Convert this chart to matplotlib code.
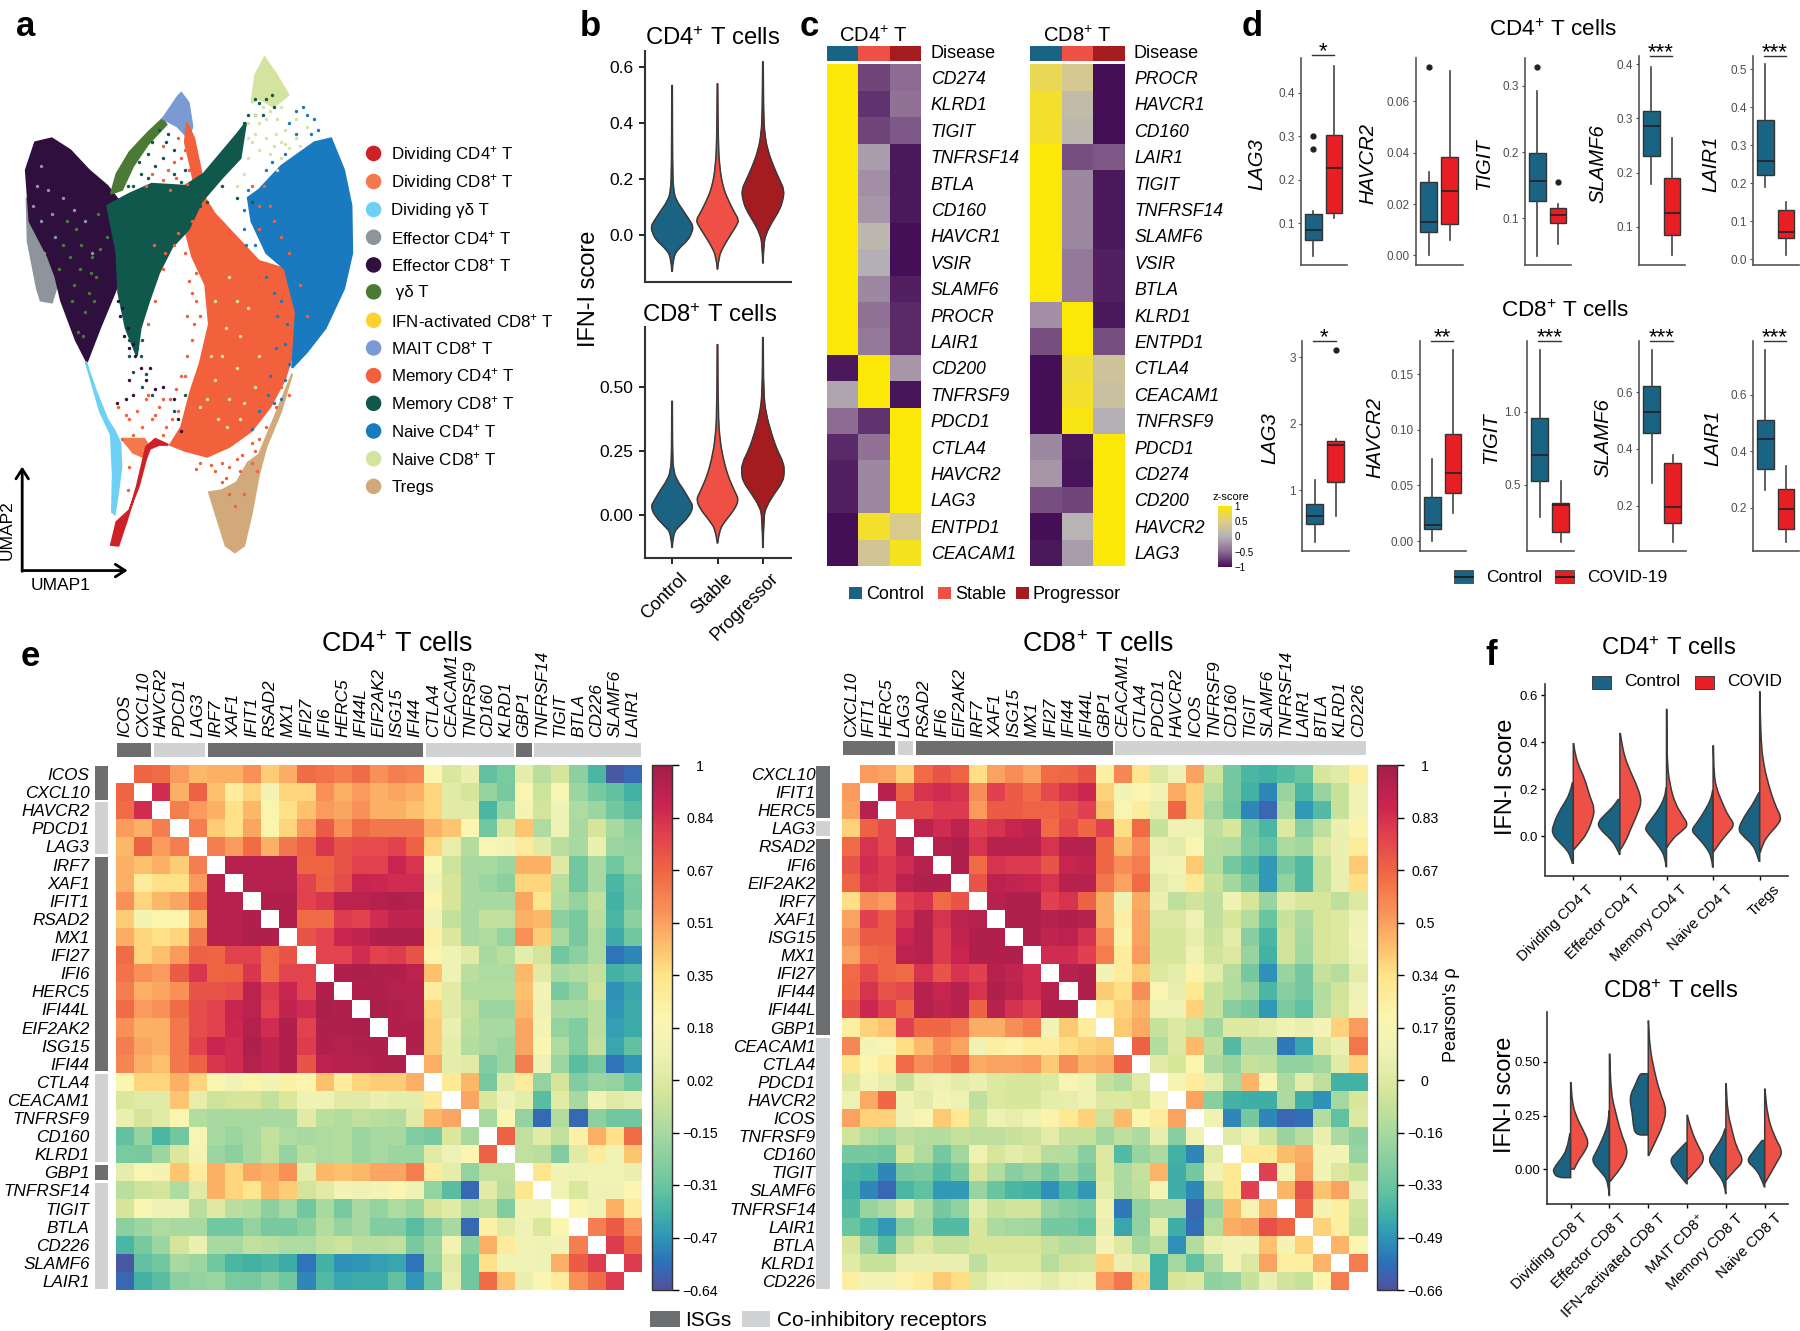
#!/bin/python3
"""----------------------------------------------------------------------------
Multi panel figure: UMAP, IFN-I violins, z-score heatmaps, boxplots, correlation
----------------------------------------------------------------------------"""

# importing needed modules
import numpy as np
import matplotlib
matplotlib.use("Agg")
import matplotlib.pyplot as plt
from matplotlib.colors import LinearSegmentedColormap, ListedColormap
from matplotlib.patches import Polygon, Rectangle, PathPatch
from matplotlib.path import Path
from matplotlib.transforms import ScaledTranslation

plt.rcParams['font.family'] = ['Liberation Sans', 'DejaVu Sans']
plt.rcParams['mathtext.fontset'] = 'custom'
plt.rcParams['mathtext.rm'] = 'Liberation Sans'
plt.rcParams['mathtext.it'] = 'Liberation Sans:italic'
plt.rcParams['mathtext.default'] = 'regular'

# data: panel a, cluster outlines and stray cells --------------------------------
cluster_names = ["Dividing CD4$^{+}$ T", "Dividing CD8$^{+}$ T", "Dividing γδ T",
                 "Effector CD4$^{+}$ T", "Effector CD8$^{+}$ T", " γδ T",
                 "IFN-activated CD8$^{+}$ T", "MAIT CD8$^{+}$ T", "Memory CD4$^{+}$ T",
                 "Memory CD8$^{+}$ T", "Naive CD4$^{+}$ T", "Naive CD8$^{+}$ T", "Tregs"]
cluster_colors = ["#cf2027", "#f47a4e", "#6fd0f5", "#8d949c", "#2e0f3d", "#4a7a35",
                  "#fdd12f", "#7b9ad4", "#f2603c", "#10574c", "#1a7ac0", "#d5e3a0", "#d2a97a"]

naive4_shape = [(700,480),(760,420),(850,360),(895,350),(930,430),(950,520),(952,640),(930,730),(880,830),(830,890),(790,930),(800,790),(770,680),(720,640),(680,560),(670,500)]
naive8_shape = [(690,190),(715,145),(745,185),(780,240),(740,270),(700,250),(680,260)]
effector4_shape = [(72,500),(75,610),(100,730),(110,760),(140,765),(155,720),(130,640),(90,530)]
effector8_shape = [(95,360),(140,350),(190,380),(240,430),(290,470),(340,530),(345,600),(330,690),(310,740),(270,830),(235,915),(205,860),(165,760),(150,700),(130,650),(80,560),(70,430)]
gd_shape = [(300,490),(315,440),(350,385),(400,335),(440,300),(450,315),(400,365),(360,420),(330,480)]
mait_shape = [(440,300),(480,245),(490,235),(510,260),(520,320),(510,350),(480,320)]
memory4_shape = [(540,480),(580,540),(640,600),(700,660),(770,680),(800,790),(790,900),(770,960),(730,1030),(680,1090),(620,1130),(560,1155),(500,1140),(460,1125),(490,1080),(515,990),(540,920),(565,820),(555,720),(520,650),(500,580),(510,530)]
memory4_sliver = [(505,310),(525,350),(545,440),(548,470),(530,490),(515,420),(500,360)]
memory8_shape = [(290,520),(350,490),(410,465),(500,470),(550,440),(640,340),(665,310),(650,400),(600,450),(545,510),(510,580),(465,625),(430,690),(400,770),(380,830),(370,900),(340,830),(320,740),(315,640)]
dividing_gd_shape = [(232,915),(260,990),(290,1060),(310,1090),(325,1120),(328,1180),(320,1240),(310,1300),(303,1295),(305,1200),(300,1100),(270,1040)]
dividing8_shape = [(330,1110),(390,1110),(405,1130),(385,1155),(360,1145)]
dividing4_shape = [(300,1378),(320,1380),(345,1310),(370,1230),(385,1170),(395,1130),(420,1110),(455,1125),(430,1125),(405,1135),(395,1160),(375,1230),(350,1290),(315,1320)]
tregs_shape = [(565,1245),(600,1240),(640,1220),(670,1170),(700,1150),(740,1060),(790,945),(760,1040),(720,1130),(700,1200),(680,1300),(660,1380),(635,1397),(610,1380),(590,1320)]

orange_cells = [(505,320),(520,350),(500,380),(525,400),(510,430),(480,350),(530,430),(440,370),(470,410),(415,620),
                (440,680),(420,760),(400,820),(530,760),(525,820),(505,900),(395,1010),(430,1030),(370,1040),(340,1050),
                (330,1110),(350,1180),(345,1240),(420,1050),(450,1080),(460,1010),(480,1040),(360,1100),(600,1170),(640,1160),
                (680,1120),(610,1210),(580,1190),(620,1250),(660,1250),(700,1060),(730,1010),(760,980),
                (455,430),(490,400),(440,455),(505,465),(475,450),(410,440),(395,470),(460,480),(520,560),(480,590),
                (470,620),(500,640),(445,640),(530,690),(510,710),(520,740),(540,800),(505,800),(520,860),(490,950),
                (475,985),(500,950),(440,1010),(410,1060),(385,1080),(350,1060),(320,1030),(400,1000),(465,1060),(440,1100),
                (540,1170),(570,1175),(530,1185),(620,1180),(650,1190),(700,1110),(720,1080),(680,1170),(600,1220),(635,1280),
                (745,1030),(780,1000),(690,1140),(655,1150),(695,1190),(740,560),(700,580),(760,600),(780,640),(730,520),
                (760,700),(810,720),(830,800),(700,520),(715,470),(680,470)]
green_cells = [(400,390),(420,420),(380,440),(450,360),(470,380),(430,330),(360,470),(400,450),(660,310),(690,290),
               (720,250),(740,270),(700,260),(370,880),(360,940),(385,980),(410,1000),(340,820),(350,860),(470,1040),
               (500,1000),(680,510),(640,500),(440,400),(470,440),(490,460),(430,470),(380,480),(345,470),(410,360),
               (375,410),(500,430),(520,460),(455,340),(610,400),(590,440),(620,370),(650,350),(670,290),(710,290),
               (735,240),(690,250),(360,760),(330,740),(345,780),(370,810),(385,860),(380,900),(395,945),(350,900),
               (600,470),(570,470),(540,520),(560,510),(520,530)]
purple_cells = [(330,780),(345,830),(360,870),(350,960),(380,930),(420,985),(315,1020),(340,1010),(480,1060),(490,1090),
                (320,760),(325,800),(335,850),(350,880),(365,900),(395,960),(405,930),(470,1010),(360,1000),(440,980)]
blue_cells = [(670,480),(700,500),(690,540),(660,530),(750,800),(770,960),(760,1010),(680,1085),(730,600),(800,280),
              (830,290),(860,330),(780,680),(740,740),(810,900),(820,270),(850,300),(780,310),(840,340),(800,340),
              (760,760),(775,820),(745,880),(730,950),(725,1000),(700,1040),(665,620),(690,620),(660,580),(720,700),
              (750,660),(790,700),(770,870),(795,880),(740,1020),(780,920),(815,880),(720,430),(735,410),(770,390)]
pale_cells = [(640,760),(600,900),(560,1010),(620,1010),(590,1060),(650,850),(580,960),(540,1030),(700,900),(660,1020),
              (750,430),(720,350),(760,360),(680,360),(810,370),(690,290),(720,300),(750,300),(770,330),(800,300),
              (740,370),(770,365),(690,340),(670,350),(730,280),(710,270),(760,270),(620,700),(580,760),(610,830),
              (670,780),(640,930),(690,980),(570,900),(615,1080),(650,1060),(700,380),(730,390),(670,400),(660,440),
              (640,470),(780,375),(745,340),(800,350),(830,320),(760,400),(670,310),(700,310)]
gd_cells = [(180,560),(220,620),(250,650),(200,720),(230,790),(260,700),(160,680),(210,840),(240,740),(190,650),
            (170,620),(215,680),(245,690),(195,760),(225,850),(255,760),(270,630),(290,600),(265,540),(205,580)]
grey_cells = [(130,480),(170,500),(110,560),(150,600),(250,640),(230,560),(120,640),(100,470),(90,520),(140,540),(200,530),(110,420)]

# data: panel b, violin outlines (score, half width) ------------------------------
groups_b = ["Control", "Stable", "Progressor"]
b4_control_y = [-.131,-.078,-.048,-.018,.006,.03,.054,.09,.125,.161,.245,.537]
b4_control_w = [.004,.022,.147,.353,.426,.47,.382,.235,.088,.029,.011,.006]
b4_stable_y = [-.123,-.078,-.036,.006,.036,.054,.078,.125,.173,.245,.34,.543]
b4_stable_w = [.004,.022,.147,.309,.426,.47,.382,.235,.118,.044,.015,.006]
b4_prog_y = [-.101,-.03,.006,.042,.09,.125,.161,.197,.245,.304,.364,.436,.621]
b4_prog_w = [.004,.015,.074,.184,.368,.44,.47,.368,.235,.103,.037,.015,.006]
b8_control_y = [-.128,-.072,-.046,-.007,.033,.059,.098,.137,.176,.24,.446]
b8_control_w = [.004,.022,.147,.368,.47,.382,.257,.103,.029,.011,.006]
b8_stable_y = [-.111,-.059,-.02,.02,.059,.091,.15,.215,.294,.398,.668]
b8_stable_w = [.004,.037,.184,.368,.47,.382,.235,.132,.051,.015,.006]
b8_prog_y = [-.128,-.007,.033,.085,.131,.163,.202,.255,.32,.398,.476,.695]
b8_prog_w = [.004,.015,.074,.257,.44,.47,.46,.309,.184,.066,.015,.006]

# data: panel c, z-scores per gene ------------------------------------------------
genes_c4 = ["CD274","KLRD1","TIGIT","TNFRSF14","BTLA","CD160","HAVCR1","VSIR","SLAMF6","PROCR","LAIR1",
            "CD200","TNFRSF9","PDCD1","CTLA4","HAVCR2","LAG3","ENTPD1","CEACAM1"]
z_c4_control = [1,1,1,1,1,1,1,1,1,1,1,-.95,-.1,-.5,-.85,-.9,-.9,-1,-1]
z_c4_stable = [-.7,-.8,-.7,-.15,-.25,-.2,.1,-.03,-.3,-.45,-.4,1,1,-.8,-.45,-.3,-.3,.85,.35]
z_c4_prog = [-.5,-.45,-.6,-.95,-.95,-.95,-1,-1,-.9,-.85,-.85,-.2,-.97,1,1,1,1,.45,.9]
genes_c8 = ["PROCR","HAVCR1","CD160","LAIR1","TIGIT","TNFRSF14","SLAMF6","VSIR","BTLA","KLRD1","ENTPD1",
            "CTLA4","CEACAM1","TNFRSF9","PDCD1","CD274","CD200","HAVCR2","LAG3"]
z_c8_control = [.7,.85,.85,1,1,1,1,1,1,-.25,-.65,-1,-1,-1,-.3,-.2,-.65,-1,-.95]
z_c8_stable = [.4,.15,.1,-.65,-.3,-.3,-.3,-.4,-.4,1,1,.8,.85,.95,-.95,-.97,-.7,.03,-.15]
z_c8_prog = [-1,-1,-1,-.6,-.95,-.95,-.95,-.9,-.9,-.95,-.65,.3,.25,-.02,1,1,1,1,1]

# data: panel d, box statistics (low, q1, median, q3, high, outliers) ---------------
genes_d4 = ["LAG3","HAVCR2","TIGIT","SLAMF6","LAIR1"]
box_d4_control = [(.024,.061,.083,.122,.127,[.30,.27]), (0,.0091,.0131,.0285,.0324,[.0733]),
                  (.0434,.127,.156,.198,.292,[.328]), (.179,.23,.2865,.313,.396,[]), (.19,.223,.258,.367,.514,[])]
box_d4_covid = [(.111,.123,.227,.303,.461,[]), (.0061,.0124,.0251,.0384,.0718,[]),
                (.061,.0925,.105,.116,.122,[.155]), (.047,.084,.126,.189,.263,[]), (.012,.055,.073,.13,.151,[])]
ylim_d4 = [(.0035,.481),(-.0037,.0769),(.03,.342),(.029,.416),(-.015,.536)]
ticks_d4 = [[.1,.2,.3,.4],[0,.02,.04,.06],[.1,.2,.3],[.1,.2,.3,.4],[0,.1,.2,.3,.4,.5]]
ticklabels_d4 = [["0.1","0.2","0.3","0.4"],["0.00","0.02","0.04","0.06"],["0.1","0.2","0.3"],
                 ["0.1","0.2","0.3","0.4"],["0.0","0.1","0.2","0.3","0.4","0.5"]]
stars_d4 = ["*","","","***","***"]
box_d8_control = [(.223,.496,.617,.791,1.15,[]), (0,.011,.0146,.04,.0735,[]), (.28,.524,.706,.96,1.423,[]),
                  (.28,.455,.531,.622,.747,[]), (.263,.337,.442,.511,.759,[])]
box_d8_covid = [(.617,1.116,1.684,1.742,1.765,[3.104]), (.025,.043,.0613,.096,.1715,[]), (.108,.177,.36,.376,.526,[]),
                (.073,.14,.195,.35,.378,[]), (.08,.126,.196,.266,.347,[])]
ylim_d8 = [(.084,3.243),(-.009,.18),(.045,1.487),(.04,.78),(.047,.79)]
ticks_d8 = [[1,2,3],[0,.05,.1,.15],[.5,1],[.2,.4,.6],[.2,.4,.6]]
ticklabels_d8 = [["1","2","3"],["0.00","0.05","0.10","0.15"],["0.5","1.0"],["0.2","0.4","0.6"],["0.2","0.4","0.6"]]
stars_d8 = ["*","**","***","***","***"]

# data: panel e, lower triangles of the correlation matrices -----------------------
genes_e4 = ["ICOS","CXCL10","HAVCR2","PDCD1","LAG3","IRF7","XAF1","IFIT1","RSAD2","MX1","IFI27","IFI6","HERC5",
            "IFI44L","EIF2AK2","ISG15","IFI44","CTLA4","CEACAM1","TNFRSF9","CD160","KLRD1","GBP1","TNFRSF14",
            "TIGIT","BTLA","CD226","SLAMF6","LAIR1"]
isg_e4 = [1,1,0,0,0,1,1,1,1,1,1,1,1,1,1,1,1,0,0,0,0,0,1,0,0,0,0,0,0]
corr_e4 = [[],
 [.67],
 [.65,.85],
 [.52,.47,.6],
 [.45,.68,.52,.6],
 [.47,.43,.47,.4,.6],
 [.47,.28,.35,.35,.52,.93],
 [.55,.38,.45,.5,.65,.93,.93],
 [.4,.15,.22,.22,.47,.93,.93,.95],
 [.48,.38,.35,.38,.62,.93,.93,.96,.95],
 [.65,.38,.43,.52,.68,.67,.78,.78,.66,.72],
 [.63,.55,.52,.7,.82,.67,.68,.82,.65,.77,.77],
 [.6,.47,.5,.55,.72,.72,.75,.92,.8,.88,.77,.95],
 [.65,.52,.55,.65,.75,.78,.88,.92,.78,.9,.85,.97,.95],
 [.55,.47,.47,.62,.75,.78,.87,.94,.85,.95,.78,.96,.96,.97],
 [.6,.5,.47,.62,.78,.88,.85,.96,.9,.95,.8,.95,.94,.95,.95],
 [.58,.47,.43,.62,.68,.82,.85,.94,.9,.95,.72,.92,.93,.94,.95,.96],
 [.2,.38,.38,.47,.38,.2,.12,.22,.13,.25,.22,.43,.28,.38,.4,.4,.47],
 [0,.03,.03,.42,.06,-.05,-.02,-.02,-.07,0,.1,.1,.03,.03,.08,.05,.05,.3],
 [.08,-.02,.03,.2,-.12,-.15,-.15,-.15,-.15,-.15,.03,-.1,-.12,-.08,-.1,-.12,.03,.45,.5],
 [-.33,-.2,-.38,-.3,.18,-.15,-.18,-.15,-.07,-.13,-.15,-.13,-.12,-.18,-.15,-.15,-.25,-.28,0,-.15],
 [-.27,-.28,-.18,0,.15,-.18,-.22,-.15,-.08,-.2,-.1,-.13,-.12,-.18,-.15,-.18,-.18,.03,.1,.2,.68],
 [.05,.18,.15,.42,.28,.47,.38,.5,.47,.55,.05,.45,.43,.45,.5,.5,.6,.28,.05,-.2,-.08,-.08],
 [-.1,-.05,-.03,-.13,.03,.47,.38,.33,.45,.4,-.03,.03,.13,.1,.13,.2,.1,-.2,-.35,-.57,.03,-.1,.33],
 [-.02,.18,.1,.1,-.1,.02,-.1,-.12,-.22,-.15,-.3,-.15,-.28,-.15,-.2,-.13,-.18,-.02,.03,-.12,-.08,-.25,.13,.12],
 [-.22,-.18,-.13,-.15,-.15,-.3,-.3,-.2,-.28,-.28,-.22,-.12,-.2,-.15,-.25,-.25,-.35,-.25,-.15,-.57,.25,.03,.1,0,.2],
 [-.38,-.28,-.18,-.02,.08,-.15,-.15,-.08,-.1,-.13,-.13,-.07,-.05,-.1,-.1,-.08,-.28,-.18,.12,-.22,.47,.28,.12,.1,.12,.6],
 [-.62,-.33,-.3,-.15,-.18,-.3,-.38,-.4,-.38,-.42,-.55,-.4,-.48,-.47,-.45,-.43,-.55,-.2,.03,-.3,.35,.12,.12,.1,.47,.7,.8],
 [-.58,-.4,-.35,-.22,-.2,-.18,-.27,-.28,-.22,-.3,-.5,-.37,-.43,-.42,-.42,-.33,-.47,-.3,.07,-.3,.65,.42,.08,.2,.28,.55,.65,.8]]
ticks_e4 = ["−0.64","−0.47","−0.31","−0.15","0.02","0.18","0.35","0.51","0.67","0.84","1"]

genes_e8 = ["CXCL10","IFIT1","HERC5","LAG3","RSAD2","IFI6","EIF2AK2","IRF7","XAF1","ISG15","MX1","IFI27","IFI44",
            "IFI44L","GBP1","CEACAM1","CTLA4","PDCD1","HAVCR2","ICOS","TNFRSF9","CD160","TIGIT","SLAMF6","TNFRSF14",
            "LAIR1","BTLA","KLRD1","CD226"]
isg_e8 = [1,1,1,0,1,1,1,1,1,1,1,1,1,1,1,0,0,0,0,0,0,0,0,0,0,0,0,0,0]
corr_e8 = [[],
 [.52],
 [.5,.93],
 [.38,.68,.75],
 [.65,.82,.75,.92],
 [.72,.85,.8,.85,.94],
 [.67,.82,.8,.92,.96,.95],
 [.35,.55,.52,.78,.82,.65,.72],
 [.5,.78,.7,.82,.93,.82,.92,.93],
 [.55,.7,.7,.88,.93,.8,.9,.95,.95],
 [.5,.65,.67,.92,.93,.8,.88,.95,.95,.96],
 [.65,.75,.67,.65,.82,.72,.82,.78,.93,.9,.85],
 [.66,.82,.72,.75,.93,.88,.93,.82,.95,.92,.85,.93],
 [.72,.87,.78,.66,.94,.9,.93,.68,.93,.83,.78,.95,.95],
 [.25,.38,.42,.78,.66,.66,.62,.47,.47,.55,.6,.12,.4,.28],
 [.57,.12,.18,.35,.44,.55,.5,.1,.25,.22,.28,.27,.35,.38,.4],
 [.32,.2,.27,.65,.55,.6,.65,.48,.5,.5,.52,.4,.55,.45,.48,.68],
 [0,.12,.05,-.07,.07,.08,.03,.07,0,-.02,-.02,0,.18,.1,-.08,-.13,.02],
 [.08,.48,.66,.1,.03,.13,.08,-.1,-.01,-.02,-.02,.04,.05,.1,0,0,-.03,.15],
 [.5,.38,.38,.08,.17,.4,.3,-.05,.08,.05,.1,.22,.3,.38,-.06,.44,.2,.28,.5],
 [-.05,-.12,-.17,-.1,-.12,-.13,-.07,-.1,-.1,-.07,-.05,.03,-.07,-.07,-.18,-.1,-.15,.05,-.25,.1],
 [-.3,-.3,-.32,-.02,-.14,-.3,-.18,.1,-.03,.03,-.01,-.12,-.13,-.25,0,-.38,-.2,-.15,-.42,-.52,.02],
 [-.4,-.42,-.52,-.3,-.28,-.38,-.3,-.03,-.13,-.25,-.2,-.3,-.2,-.3,0,-.15,-.08,.45,-.43,-.3,.1,.3],
 [-.42,-.52,-.6,-.4,-.35,-.48,-.48,-.2,-.33,-.4,-.42,-.5,-.4,-.48,.03,-.15,-.1,.15,-.43,-.52,-.05,.3,.78],
 [-.38,-.2,-.15,0,-.15,-.3,-.22,.03,-.07,-.05,-.05,-.2,-.25,-.28,.1,-.55,-.22,-.15,-.15,-.6,-.2,.43,.15,.45],
 [-.33,-.4,-.48,-.25,-.18,-.38,-.38,-.02,-.15,-.17,-.18,-.3,-.3,-.35,.07,-.45,-.22,.03,-.43,-.58,-.12,.47,.5,.73,.67],
 [-.02,-.2,-.38,-.1,0,-.08,-.08,-.03,-.03,-.03,-.03,-.08,-.13,-.12,.12,0,-.18,-.1,-.5,-.13,.07,.12,.12,.42,.14,.38],
 [.02,-.07,-.07,.07,.07,.07,.06,-.1,0,0,-.01,-.12,-.05,-.04,.38,.07,.02,-.42,-.17,-.35,-.15,.12,-.01,.5,.25,.25,.45],
 [.25,.12,.12,.22,.28,.4,.35,0,.1,.12,.1,.03,.08,.12,.52,.62,.38,-.42,-.03,0,-.23,-.2,-.07,.07,-.05,-.07,.2,.6]]
ticks_e8 = ["−0.66","−0.49","−0.33","−0.16","0","0.17","0.34","0.5","0.67","0.83","1"]

# data: panel f, split violin outlines (score, half width) --------------------------
cells_f4 = ["Dividing CD4 T","Effector CD4 T","Memory CD4 T","Naive CD4 T","Tregs"]
f4_control = [([-.116,-.087,-.058,-.029,.01,.048,.107,.155,.194,.227],[.02,.06,.14,.29,.46,.43,.3,.14,.06,.02]),
              ([-.078,-.048,-.01,.029,.058,.097,.126,.155],[.01,.07,.21,.43,.48,.29,.14,.04]),
              ([-.13,-.087,-.039,.01,.033,.068,.116,.165,.204],[.01,.03,.18,.39,.47,.34,.16,.04,.01]),
              ([-.132,-.087,-.039,0,.025,.058,.107,.155,.194],[.01,.03,.18,.36,.47,.34,.18,.05,.01]),
              ([-.107,-.078,-.039,0,.029,.087,.126,.165,.184],[.014,.06,.14,.36,.47,.32,.18,.07,.02])]
f4_covid = [([-.058,-.029,.01,.068,.116,.165,.242,.3,.359,.393],[.01,.14,.29,.41,.46,.36,.25,.11,.03,.01]),
            ([-.058,-.029,.029,.087,.145,.204,.281,.339,.397,.436],[.01,.11,.23,.36,.47,.39,.21,.1,.04,.01]),
            ([-.048,-.01,.019,.048,.087,.145,.223,.3,.417,.539],[.01,.13,.32,.47,.34,.17,.07,.02,.01,.007]),
            ([-.068,-.029,.01,.048,.087,.145,.204,.262,.384],[.007,.14,.3,.47,.32,.19,.07,.02,.007]),
            ([-.068,-.029,.01,.048,.078,.126,.223,.32,.407,.533,.614],[.014,.07,.21,.39,.47,.34,.18,.07,.03,.01,.007])]
f4_ticks = [0,.2,.4,.6]
cells_f8 = ["Dividing CD8 T","Effector CD8 T","IFN−activated CD8 T","MAIT CD8$^{+}$","Memory CD8 T","Naive CD8 T"]
f8_control = [([-.04,-.04,-.015,.006,.049,.091,.165],[.16,.34,.45,.43,.24,.1,.02]),
              ([-.123,-.057,-.015,.038,.08,.144,.208,.271],[.007,.03,.21,.47,.34,.17,.04,.01]),
              ([.159,.159,.208,.261,.335,.398,.445,.445],[.16,.33,.39,.41,.49,.32,.22,.1]),
              ([-.068,-.025,.038,.08,.123],[.014,.21,.47,.26,.03]),
              ([-.114,-.068,-.015,.038,.091,.144,.186],[.007,.034,.23,.47,.3,.1,.026]),
              ([-.083,-.036,.006,.038,.08,.133],[.01,.1,.26,.47,.3,.07])]
f8_covid = [([0,.038,.08,.123,.176,.25,.314,.403],[.09,.19,.36,.47,.34,.13,.04,.01]),
            ([-.057,-.015,.038,.091,.165,.271,.356,.536],[.02,.21,.41,.47,.3,.15,.04,.007]),
            ([.064,.123,.208,.282,.356,.462,.568,.691],[.014,.17,.39,.47,.3,.15,.04,.007]),
            ([-.05,-.004,.049,.112,.186,.25],[.01,.26,.47,.27,.1,.01]),
            ([-.05,-.008,.038,.102,.186,.271,.398],[.014,.21,.47,.27,.15,.04,.007]),
            ([-.064,-.015,.038,.08,.155,.25,.373],[.01,.17,.33,.47,.24,.07,.007])]
f8_ticks = [0,.25,.5]

teal = "#1b6382"
stable_red = "#ef5045"
dark_red = "#a51c20"
covid_red = "#e81e25"
line_col = "#3a3a3a"

fig = plt.figure(figsize=(18, 13.31), dpi=100)


def axpx(x0, y0, x1, y1):
    # axes from pixel box, y counted from the top of the picture
    return fig.add_axes([x0/1800, 1-y1/1331, (x1-x0)/1800, (y1-y0)/1331])


def txt(x, y, s, **kw):
    kw.setdefault("ha", "center")
    kw.setdefault("va", "center")
    fig.text(x/1800, 1-y/1331, s, **kw)


def box(x0, y0, x1, y1, color):
    fig.add_artist(Rectangle((x0/1800, 1-y1/1331), (x1-x0)/1800, (y1-y0)/1331,
                             transform=fig.transFigure, facecolor=color, edgecolor="none"))


def open_axes(ax, lw=1.5, color="#333333"):
    ax.spines["top"].set_visible(False)
    ax.spines["right"].set_visible(False)
    ax.spines["left"].set_linewidth(lw)
    ax.spines["bottom"].set_linewidth(lw)
    ax.spines["left"].set_color(color)
    ax.spines["bottom"].set_color(color)
    ax.patch.set_alpha(0)


def shift_labels(ax, dx_px):
    # moves rotated x labels to the right, they end past their tick in the figure
    off = ScaledTranslation(dx_px/100, 0, fig.dpi_scale_trans)
    for lab in ax.get_xticklabels():
        lab.set_transform(lab.get_transform()+off)


def curve_outline(x, y, w, side):
    # profile goes from bottom tip to top tip, curved through the read points
    pts = np.column_stack([x+side*np.array(w), y])
    verts = [(x, y[0]), tuple(pts[0])]
    codes = [Path.MOVETO, Path.LINETO]
    for k in range(1, len(pts)-1):
        verts += [tuple(pts[k]), tuple((pts[k]+pts[k+1])/2)]
        codes += [Path.CURVE3, Path.CURVE3]
    verts += [tuple(pts[-1]), (x, y[-1]), (x, y[0])]
    codes += [Path.LINETO, Path.LINETO, Path.CLOSEPOLY]
    return verts, codes


def half_violin(ax, x, y, w, side, color):
    verts, codes = curve_outline(x, y, w, side)
    ax.add_patch(PathPatch(Path(verts, codes), facecolor=color, edgecolor=line_col, lw=1.1))


for letter, lx, ly in [("a",26,26),("b",590,27),("c",809,27),("d",1252,27),("e",30,657),("f",1491,656)]:
    txt(lx, ly, letter, fontsize=25, fontweight="bold")

# panel a ---------------------------------------------------------------------------
ax = axpx(0, 0, 580, 620)
ax.set_xlim(0, 1568)
ax.set_ylim(1568, 0)
ax.axis("off")
shapes = [(memory4_shape,8),(naive4_shape,10),(naive8_shape,11),(effector4_shape,3),(effector8_shape,4),(gd_shape,5),(mait_shape,7),
          (memory4_sliver,8),(memory8_shape,9),(dividing_gd_shape,2),(dividing8_shape,1),
          (dividing4_shape,0),(tregs_shape,12)]
for shape, k in shapes:
    ax.add_patch(Polygon(shape, closed=True, facecolor=cluster_colors[k], edgecolor=cluster_colors[k], lw=1.5))
for cells, k in [(orange_cells,8),(green_cells,9),(purple_cells,4),(blue_cells,10),(pale_cells,11),(gd_cells,5),(grey_cells,3)]:
    cells = np.array(cells)
    ax.scatter(cells[:,0], cells[:,1], s=6, color=cluster_colors[k], lw=0)
legend_y = [390,461,532,602,672,740,812,882,952,1022,1092,1162,1232]
ax.scatter([1010]*13, np.array(legend_y)-2, s=125, c=cluster_colors, lw=0)
for name, y in zip(cluster_names, legend_y):
    ax.text(1058, y, name, fontsize=12.2, va="center", ha="left")
ax.annotate("", xy=(60,1180), xytext=(60,1445), arrowprops=dict(arrowstyle="->,head_width=.45,head_length=.7", lw=2, color="k", shrinkA=0, shrinkB=0))
ax.annotate("", xy=(345,1443), xytext=(60,1443), arrowprops=dict(arrowstyle="->,head_width=.45,head_length=.7", lw=2, color="k", shrinkA=0, shrinkB=0))
ax.text(165, 1482, "UMAP1", fontsize=12.5, ha="center", va="center")
ax.text(18, 1340, "UMAP2", fontsize=12.5, ha="center", va="center", rotation=90)


# panel b ---------------------------------------------------------------------------
def violins(ax, ys, ws, colors):
    for i, (y, w, c) in enumerate(zip(ys, ws, colors)):
        right, rc = curve_outline(i, y, w, 1)
        left, lc = curve_outline(i, y, w, -1)
        ax.add_patch(PathPatch(Path(right, rc), facecolor=c, edgecolor=c, lw=.6))
        ax.add_patch(PathPatch(Path(left, lc), facecolor=c, edgecolor=c, lw=.6))
        # outline only along the profile, the closing centre line stays hidden
        ax.add_patch(PathPatch(Path(right[1:-2], [Path.MOVETO]+rc[2:-2]), facecolor="none", edgecolor=line_col, lw=1.1))
        ax.add_patch(PathPatch(Path(left[1:-2], [Path.MOVETO]+lc[2:-2]), facecolor="none", edgecolor=line_col, lw=1.1))


ax = axpx(645, 50.7, 791, 281.7)
violins(ax, [b4_control_y, b4_stable_y, b4_prog_y], [b4_control_w, b4_stable_w, b4_prog_w], [teal, stable_red, dark_red])
ax.set_xlim(-.596, 2.618)
ax.set_ylim(-.167, .66)
ax.set_xticks([])
ax.set_yticks([0,.2,.4,.6], ["0.0","0.2","0.4","0.6"], fontsize=12.5)
ax.tick_params(length=4, width=1.2, pad=4.5)
open_axes(ax)

ax = axpx(645, 327.3, 791, 557.7)
violins(ax, [b8_control_y, b8_stable_y, b8_prog_y], [b8_control_w, b8_stable_w, b8_prog_w], [teal, stable_red, dark_red])
ax.set_xlim(-.596, 2.618)
ax.set_ylim(-.167, .734)
ax.set_xticks([0,1,2])
ax.set_xticklabels(groups_b, rotation=45, ha="right", rotation_mode="anchor", fontsize=13)
ax.set_yticks([0,.25,.5], ["0.00","0.25","0.50"], fontsize=12.5)
ax.tick_params(length=4, width=1.2, pad=4.5)
open_axes(ax)
shift_labels(ax, 7)
txt(713, 38.5, "CD4$^{+}$ T cells", fontsize=17.2)
txt(710, 315.5, "CD8$^{+}$ T cells", fontsize=17.2)
txt(589, 289, "IFN-I score", fontsize=17, rotation=90)

# panel c ---------------------------------------------------------------------------
zcmap = LinearSegmentedColormap.from_list("z", ["#440f56", "#8d6b93", "#b6b3b6", "#dccd88", "#fbe806"])
for x0, x1, genes, cols, title, tx in [(826.7, 921, genes_c4, (z_c4_control, z_c4_stable, z_c4_prog), "CD4$^{+}$ T", 873),
                                       (1030, 1124.7, genes_c8, (z_c8_control, z_c8_stable, z_c8_prog), "CD8$^{+}$ T", 1077)]:
    ax = axpx(x0, 64.4, x1, 566)
    ax.pcolormesh(np.array(cols).T, cmap=zcmap, vmin=-1, vmax=1)
    ax.invert_yaxis()
    ax.set_xticks([])
    ax.yaxis.tick_right()
    ax.set_yticks(np.arange(19)+.5, genes, fontstyle="italic", fontsize=12.7)
    ax.tick_params(length=0, pad=7)
    for s in ax.spines.values():
        s.set_visible(False)
    ax = axpx(x0, 46, x1, 61)
    ax.pcolormesh([[0,1,2]], cmap=ListedColormap([teal, stable_red, dark_red]))
    ax.axis("off")
    txt(x1+9, 53, "Disease", ha="left", fontsize=13)
    txt(tx, 35.5, title, fontsize=14.5)
for sx, tx, name, c in [(849,866,"Control",teal),(938,955,"Stable",stable_red),(1016,1033,"Progressor",dark_red)]:
    box(sx, 587, sx+13, 599, c)
    txt(tx, 594.5, name, ha="left", fontsize=13)
cax = axpx(1218, 506, 1232, 567)
cax.imshow(np.linspace(1, -1, 100).reshape(-1, 1), aspect="auto", cmap=zcmap, extent=[0,1,-1,1], vmin=-1, vmax=1)
cax.set_xticks([])
cax.yaxis.tick_right()
cax.set_yticks([-1,-.5,0,.5,1], ["−1","−0.5","0","0.5","1"], fontsize=7)
cax.tick_params(length=0, pad=2)
for s in cax.spines.values():
    s.set_visible(False)
txt(1231, 497, "z-score", fontsize=8)


# panel d ---------------------------------------------------------------------------
def stats(row):
    return dict(whislo=row[0], q1=row[1], med=row[2], q3=row[3], whishi=row[4], fliers=row[5])


def boxes(ax_box, control, covid, ylim, ticks, labels):
    ax = axpx(*ax_box)
    res = ax.bxp([stats(control), stats(covid)], positions=[0,1], widths=.8, patch_artist=True, showcaps=False,
                 boxprops=dict(edgecolor="#333333", lw=1),
                 medianprops=dict(color="#222222", lw=1.2),
                 whiskerprops=dict(color="#444444", lw=1.2),
                 flierprops=dict(marker="o", markersize=3.5, markerfacecolor="#222222", markeredgecolor="#222222"))
    res["boxes"][0].set_facecolor(teal)
    res["boxes"][1].set_facecolor(covid_red)
    ax.set_xlim(-.6, 1.62)
    ax.set_ylim(*ylim)
    ax.set_xticks([])
    ax.set_yticks(ticks, labels, fontsize=8.5, color="#4d4d4d")
    ax.tick_params(length=2.5, width=.8, pad=2, color="#4d4d4d")
    open_axes(ax, lw=1.2, color="#555555")
    return ax


def bracket(ax, stars, level):
    tr = ax.get_xaxis_transform()
    ax.plot([-.08, 1.0], [level, level], color="#333333", lw=1, transform=tr, clip_on=False)
    ax.text(.46, level-.035, stars, fontsize=16, ha="center", va="bottom", transform=tr)


d4_x = [(1301,1347),(1416,1463),(1525,1571),(1639,1685),(1753,1799)]
d8_x = [(1302,1349),(1420,1466),(1527,1574),(1639,1686),(1753,1799)]
d4_top = [57.7,57.7,57.7,55.7,55.7]
d4_label_x = [1257,1368,1484,1598,1711]
d8_label_x = [1270,1375,1491,1603,1713]
for i in range(5):
    ax = boxes((d4_x[i][0], d4_top[i], d4_x[i][1], 265), box_d4_control[i], box_d4_covid[i], ylim_d4[i], ticks_d4[i], ticklabels_d4[i])
    txt(d4_label_x[i], 164, genes_d4[i], fontsize=14.6, fontstyle="italic", rotation=90)
    if stars_d4[i]:
        bracket(ax, stars_d4[i], 1.013 if i == 0 else 1.0)
    ax = boxes((d8_x[i][0], 341, d8_x[i][1], 551), box_d8_control[i], box_d8_covid[i], ylim_d8[i], ticks_d8[i], ticklabels_d8[i])
    txt(d8_label_x[i], 438, genes_d4[i], fontsize=14.6, fontstyle="italic", rotation=90)
    bracket(ax, stars_d8[i], 1.0)
txt(1553, 30.5, "CD4$^{+}$ T cells", fontsize=16.2)
txt(1565, 311.5, "CD8$^{+}$ T cells", fontsize=16.2)
for sx, tx, name, c in [(1454,1486,"Control",teal),(1555,1587,"COVID-19",covid_red)]:
    box(sx, 570, sx+20, 584, "#555555")
    box(sx+1, 571, sx+19, 583, c)
    box(sx, 576.5, sx+20, 577.5, "#222222")
    txt(tx, 577, name, ha="left", fontsize=12.5)

# panel e ---------------------------------------------------------------------------
corr_cmap = LinearSegmentedColormap.from_list("corr", [
    (0, "#50519f"), (.05, "#2f70b8"), (.1, "#2f94b8"), (.14, "#3fb0a6"), (.2, "#6cc5a0"), (.3, "#a8d9a0"),
    (.38, "#d8e69a"), (.45, "#eef2b5"), (.52, "#fbf5b0"), (.6, "#fee48a"), (.65, "#fdc36e"), (.72, "#f9935a"),
    (.8, "#ef6543"), (.87, "#e0404f"), (.92, "#cc2650"), (1, "#a31d4a")])
corr_cmap.set_bad("white")


def corr_panel(x0, x1, anno_x, anno_y, cb_x, rows, genes, isg, vmin, ticklabels):
    M = np.full((29, 29), np.nan)
    for i, r in enumerate(rows):
        M[i, :i] = r
        M[:i, i] = r
    ax = axpx(x0, 765, x1, 1290)
    mesh = ax.pcolormesh(M, cmap=corr_cmap, vmin=vmin, vmax=1)
    ax.set_xlim(0, 29)
    ax.set_ylim(29, 0)
    ax.xaxis.tick_top()
    ax.set_xticks(np.arange(29)+.5)
    ax.set_xticklabels(genes, rotation=90, fontstyle="italic", fontsize=12.4)
    ax.set_yticks(np.arange(29)+.5)
    ax.set_yticklabels(genes, fontstyle="italic", fontsize=12.3)
    ax.tick_params(length=0)
    ax.tick_params(axis="x", pad=20)
    ax.tick_params(axis="y", pad=19)
    for s in ax.spines.values():
        s.set_visible(False)
    # group bars, one box per run of equal group
    top = axpx(x0, anno_y[0], x1, anno_y[1])
    left = axpx(anno_x[0], 765, anno_x[1], 1290)
    top.set_xlim(0, 29)
    left.set_ylim(29, 0)
    top.axis("off")
    left.axis("off")
    start = 0
    for k in range(1, 30):
        if k == 29 or isg[k] != isg[start]:
            c = "#6d6e70" if isg[start] else "#d1d2d3"
            top.add_patch(Rectangle((start+.07, 0), k-start-.14, 1, color=c, lw=0))
            left.add_patch(Rectangle((0, start+.07), 1, k-start-.14, color=c, lw=0))
            start = k
    # colour bar with equally spaced labels
    cax = axpx(cb_x, 765, cb_x+20, 1290)
    cb = fig.colorbar(mesh, cax=cax)
    cb.set_ticks(np.linspace(vmin, 1, 11), labels=ticklabels)
    cax.tick_params(length=5, width=1, pad=15, labelsize=10.2)
    for lab in cax.get_yticklabels():
        lab.set_ha("center")
    cb.outline.set_linewidth(1)
    cb.outline.set_edgecolor("#333333")


corr_panel(116, 642, (95,108), (743,757), 652, corr_e4, genes_e4, isg_e4, -.64, ticks_e4)
corr_panel(842, 1367.5, (816,829.5), (741,755), 1377, corr_e8, genes_e8, isg_e8, -.66, ticks_e8)
txt(397, 644.5, "CD4$^{+}$ T cells", fontsize=19.4)
txt(1098, 644.5, "CD8$^{+}$ T cells", fontsize=19.4)
txt(1451, 1015, "Pearson's ρ", fontsize=13, rotation=90)
box(650, 1311, 680, 1327, "#6d6e70")
txt(685, 1320, "ISGs", ha="left", fontsize=15)
box(742, 1311, 770, 1327, "#d1d2d3")
txt(777, 1320, "Co-inhibitory receptors", ha="left", fontsize=15)


# panel f ---------------------------------------------------------------------------
def split_panel(ax_box, control, covid, cells, xlim, ylim, ticks, ticklabels, shift):
    ax = axpx(*ax_box)
    for i in range(len(cells)):
        half_violin(ax, i+1, control[i][0], control[i][1], -1, teal)
        half_violin(ax, i+1, covid[i][0], covid[i][1], 1, stable_red)
    ax.set_xlim(*xlim)
    ax.set_ylim(*ylim)
    ax.set_xticks(np.arange(len(cells))+1)
    ax.set_xticklabels(cells, rotation=45, ha="right", rotation_mode="anchor", fontsize=10.8)
    ax.set_yticks(ticks, ticklabels, fontsize=9.5)
    ax.tick_params(length=3, width=1, pad=2)
    open_axes(ax, lw=1.2)
    shift_labels(ax, shift)


split_panel((1545, 683.6, 1788, 875.5), f4_control, f4_covid, cells_f4, (.393, 5.607), (-.168, .649), f4_ticks, ["0.0","0.2","0.4","0.6"], 13)
split_panel((1547, 1012, 1788, 1204), f8_control, f8_covid, cells_f8, (.391, 6.6), (-.163, .733), f8_ticks, ["0.00","0.25","0.50"], 10)
txt(1669, 648.5, "CD4$^{+}$ T cells", fontsize=17.2)
txt(1671, 991.5, "CD8$^{+}$ T cells", fontsize=17.2)
txt(1506, 777, "IFN-I score", fontsize=17, rotation=90)
txt(1505, 1095, "IFN-I score", fontsize=17, rotation=90)
for sx, tx, name, c in [(1592,1624,"Control",teal),(1695,1727,"COVID",covid_red)]:
    box(sx, 675.5, sx+20, 690, "#444444")
    box(sx+1, 676.5, sx+19, 689, c)
    txt(tx, 682, name, ha="left", fontsize=12.5)

fig.savefig("out.png", dpi=100)
